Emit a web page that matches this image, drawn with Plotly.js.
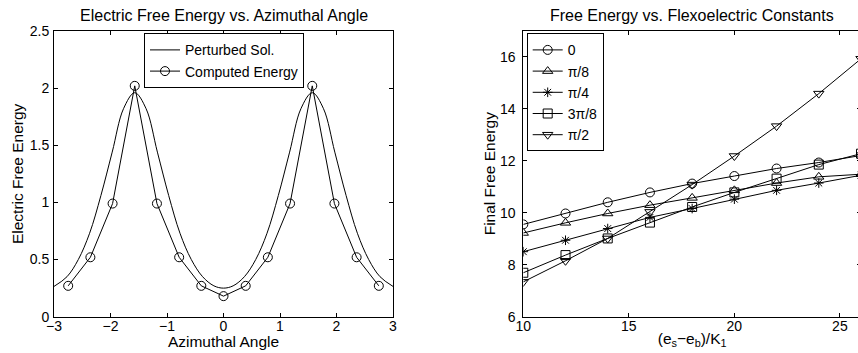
<!DOCTYPE html>
<html>
<head>
<meta charset="utf-8">
<script src="https://cdn.plot.ly/plotly-3.0.1.min.js"></script>
<style>
html,body{margin:0;padding:0;overflow:hidden;background:#fff;width:858px;height:353px;}
#chart{width:880px;height:353px;}
</style>
</head>
<body>
<div id="chart"></div>
<script>
// Left chart: Electric free energy vs azimuthal angle
const perturbedX = [-3.0,-2.77,-2.57,-2.37,-2.17,-1.97,-1.77,-1.571,-1.37,-1.17,-0.97,-0.77,-0.57,-0.37,-0.17,0,
                    0.17,0.37,0.57,0.77,0.97,1.17,1.37,1.571,1.77,1.97,2.17,2.37,2.57,2.77,3.0];
const perturbedY = [0.265,0.35,0.50,0.73,1.06,1.44,1.82,1.96,1.82,1.44,1.06,0.73,0.50,0.35,0.27,0.25,
                    0.27,0.35,0.50,0.73,1.06,1.44,1.82,1.96,1.82,1.44,1.06,0.73,0.50,0.35,0.265];
const computedX = [-2.749,-2.356,-1.963,-1.571,-1.178,-0.785,-0.393,0,0.393,0.785,1.178,1.571,1.963,2.356,2.749];
const computedY = [0.27,0.52,0.99,2.02,0.99,0.52,0.27,0.18,0.27,0.52,0.99,2.02,0.99,0.52,0.27];

// Right chart: Final free energy vs flexoelectric constants
const flexoX = [10,12,14,16,18,20,22,24,26];
const seriesNames = ['0','π/8','π/4','3π/8','π/2'];
const s0     = [9.55,9.97,10.40,10.78,11.12,11.41,11.70,11.93,12.20];
const sPi8   = [9.22,9.61,9.97,10.29,10.57,10.86,11.14,11.38,11.48];
const sPi4   = [8.50,8.94,9.39,9.82,10.16,10.52,10.86,11.14,11.44];
const s3Pi8  = [7.69,8.37,9.01,9.62,10.22,10.78,11.31,11.85,12.27];
const sPi2   = [7.34,8.15,9.01,10.03,11.08,12.18,13.33,14.58,15.92];
const symbols = ['circle-open','triangle-up-open','asterisk-open','square-open','triangle-down-open'];
const seriesVals = [s0,sPi8,sPi4,s3Pi8,sPi2];

const W = 880, H = 353;
const FONT = 'Liberation Sans, Arial, Helvetica, sans-serif';

const traces = [
  {x: perturbedX, y: perturbedY, type:'scatter', mode:'lines', name:'Perturbed Sol.',
   line:{color:'black', width:1, shape:'spline', smoothing:1}, xaxis:'x', yaxis:'y', legend:'legend'},
  {x: computedX, y: computedY, type:'scatter', mode:'lines+markers', name:'Computed Energy',
   line:{color:'black', width:1}, marker:{symbol:'circle-open', size:9, color:'black', line:{width:1,color:'black'}},
   xaxis:'x', yaxis:'y', legend:'legend'}
];
seriesVals.forEach((vals,i)=>{
  traces.push({x: flexoX, y: vals, type:'scatter', mode:'lines+markers', name: seriesNames[i],
    line:{color:'black', width:1},
    marker:{symbol:symbols[i], size:(symbols[i]==='asterisk-open'?8:9), color:'black', line:{width:1,color:'black'}},
    xaxis:'x2', yaxis:'y2', legend:'legend2'});
});

const yBot = (H-316.7)/H, yTop = (H-31)/H;
const axisCommon = {
  showline:true, linecolor:'black', linewidth:1, mirror:'ticks', ticks:'inside', ticklen:4,
  tickcolor:'black', tickwidth:1, showgrid:false, zeroline:false,
  tickfont:{family:FONT, size:14, color:'black'}, automargin:false
};
const titleFont = {family:FONT, size:15.5, color:'black'};

const layout = {
  width: W, height: H,
  margin:{l:0,r:0,t:0,b:0},
  paper_bgcolor:'white', plot_bgcolor:'white',
  font:{family:FONT, color:'black'},
  showlegend:true,
  xaxis: Object.assign({}, axisCommon, {domain:[54/W, 393/W], range:[-3,3], tickvals:[-3,-2,-1,0,1,2,3],
    ticklabelstandoff:-4,
    title:{text:'Azimuthal Angle', font:titleFont, standoff:2}, anchor:'y'}),
  yaxis: Object.assign({}, axisCommon, {domain:[yBot,yTop], range:[0,2.5], tickvals:[0,0.5,1,1.5,2,2.5],
    ticktext:['0','0.5','1','1.5','2','2.5'], ticklabelstandoff:1,
    title:{text:'Electric Free Energy', font:titleFont, standoff:2}, anchor:'x'}),
  xaxis2: Object.assign({}, axisCommon, {domain:[523.3/W, 861/W], range:[10,26], tickvals:[10,15,20,25],
    ticklabelstandoff:-4,
    title:{text:'(e<sub>s</sub>−e<sub>b</sub>)/K<sub>1</sub>', font:titleFont, standoff:0}, anchor:'y2'}),
  yaxis2: Object.assign({}, axisCommon, {domain:[yBot,(H-30.7)/H], range:[6,17], tickvals:[6,8,10,12,14,16],
    ticklabelstandoff:4,
    title:{text:'Final Free Energy', font:titleFont, standoff:0}, anchor:'x2'}),
  legend:{x:144/W, y:(H-33.3)/H, xanchor:'left', yanchor:'top', bgcolor:'white', bordercolor:'black', borderwidth:1,
    font:{family:FONT,size:14,color:'black'}, itemwidth:30, tracegroupgap:0},
  legend2:{x:526.7/W, y:(H-33.3)/H, xanchor:'left', yanchor:'top', bgcolor:'white', bordercolor:'black', borderwidth:1,
    font:{family:FONT,size:14,color:'black'}, itemwidth:30, tracegroupgap:0},
  annotations:[
    {text:'Electric Free Energy vs. Azimuthal Angle', xref:'paper', yref:'paper', x:(54+393)/2/W, y:(H-15.5)/H,
     xanchor:'center', yanchor:'middle', showarrow:false, font:{family:FONT,size:16,color:'black'}},
    {text:'Free Energy vs. Flexoelectric Constants', xref:'paper', yref:'paper', x:(523.3+861)/2/W, y:(H-15.5)/H,
     xanchor:'center', yanchor:'middle', showarrow:false, font:{family:FONT,size:16,color:'black'}}
  ]
};

Plotly.newPlot('chart', traces, layout, {staticPlot:true, displayModeBar:false});
</script>
</body>
</html>
